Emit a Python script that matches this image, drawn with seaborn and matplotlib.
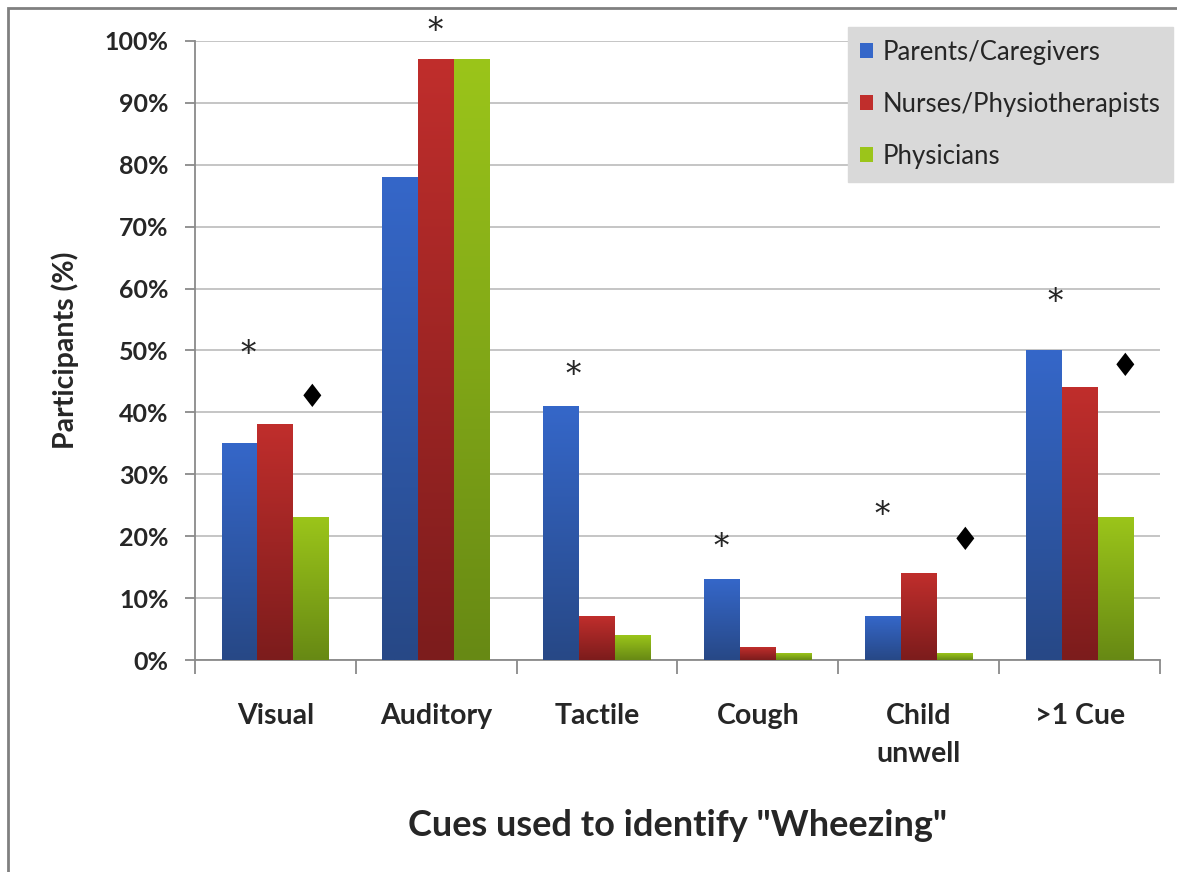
import numpy as np
import pandas as pd
import matplotlib
matplotlib.use("Agg")
import matplotlib.pyplot as plt
from matplotlib.colors import LinearSegmentedColormap
from matplotlib.patches import Rectangle, Patch
from matplotlib.ticker import FuncFormatter, MultipleLocator
import seaborn as sns

# data
categories = ["Visual", "Auditory", "Tactile", "Cough", "Child\nunwell", ">1 Cue"]
groups = ["Parents/Caregivers", "Nurses/Physiotherapists", "Physicians"]
parents = [35, 78, 41, 13, 7, 50]
nurses = [38, 97, 7, 2, 14, 44]
physicians = [23, 97, 4, 1, 1, 23]

# significance markers (x in category units, y in %)
star_x = [-0.17, 0.99, 1.85, 2.77, 3.77, 4.85]
star_y = [49.3, 101.6, 45.9, 18.1, 23.3, 57.8]
diamond_x = [0.23, 4.29, 5.28]
diamond_y = [42.3, 19.2, 47.3]

light = ["#3567c9", "#c02e2c", "#9bc51a"]
dark = ["#274886", "#7c1c1c", "#678914"]

df = pd.DataFrame({
    "cue": categories * 3,
    "group": np.repeat(groups, len(categories)),
    "value": parents + nurses + physicians,
})

sns.set_style("white")
plt.rcParams["font.family"] = ["Lato", "DejaVu Sans"]

fig = plt.figure(figsize=(11.77, 8.72), dpi=100)
ax = fig.add_axes([195 / 1177, 1 - 660 / 872, 965 / 1177, 619 / 872])

sns.barplot(data=df, x="cue", y="value", hue="group", hue_order=groups,
            palette=light, width=0.67, gap=0, ax=ax, legend=False, zorder=3)

# vertical gradient fill on every bar
grad = np.linspace(0, 1, 256).reshape(-1, 1)
for i, cont in enumerate(ax.containers):
    cmap = LinearSegmentedColormap.from_list(f"g{i}", [dark[i], light[i]])
    for p in cont.patches:
        x0, w, h = p.get_x(), p.get_width(), p.get_height()
        ax.imshow(grad, extent=[x0, x0 + w, 0, h], origin="lower", cmap=cmap,
                  aspect="auto", zorder=3, interpolation="bilinear")
        p.set_facecolor("none")
        p.set_edgecolor("none")

ax.set_xlim(-0.5, 5.5)
ax.set_ylim(0, 100)
ax.yaxis.set_major_locator(MultipleLocator(10))
ax.yaxis.set_major_formatter(FuncFormatter(lambda v, _: f"{int(v)}%"))
ax.grid(axis="y", color="#c0c0c0", linewidth=1.3, zorder=0)
ax.set_axisbelow(True)

for s in ["top", "right"]:
    ax.spines[s].set_visible(False)
for s in ["left", "bottom"]:
    ax.spines[s].set_color("#8a8a8a")
    ax.spines[s].set_linewidth(1.3)

ax.tick_params(axis="y", length=7, width=1.3, color="#8a8a8a", pad=12,
               labelsize=18, left=True)
ax.tick_params(axis="x", which="major", length=0, pad=31, labelsize=20.5)
ax.set_xticks(np.arange(-0.5, 6.0, 1.0), minor=True)
ax.tick_params(axis="x", which="minor", length=10, width=1.3, color="#8a8a8a",
               bottom=True, direction="out")
for lab in ax.get_xticklabels() + ax.get_yticklabels():
    lab.set_fontweight("bold")
for lab in ax.get_xticklabels():
    lab.set_linespacing(1.55)

ax.set_xlabel('Cues used to identify "Wheezing"', fontsize=26, fontweight="bold")
ax.xaxis.set_label_coords(0.5, -0.267)
ax.xaxis.label.set_va("center")
ax.set_ylabel("Participants (%)", fontsize=20.5, fontweight="bold")
ax.yaxis.set_label_coords(-0.135, 0.5)
ax.yaxis.label.set_va("center")

for x, y in zip(star_x, star_y):
    ax.text(x, y, "*", fontsize=22, ha="center", va="center",
            family="DejaVu Serif", clip_on=False, zorder=5)
for x, y in zip(diamond_x, diamond_y):
    ax.text(x, y, "\u2666", fontsize=23, ha="center", va="center",
            family="DejaVu Sans", color="black", clip_on=False, zorder=5)

handles = [Patch(facecolor=c, edgecolor="none") for c in light]
leg = fig.legend(handles, groups, loc="upper right",
                 bbox_to_anchor=(1173 / 1177, 1 - 27 / 872), borderaxespad=0,
                 fontsize=18.5, frameon=True, fancybox=False, facecolor="#d9d9d9",
                 edgecolor="#d9d9d9", framealpha=1, handlelength=0.5,
                 handleheight=0.5, handletextpad=0.35, labelspacing=1.05,
                 borderpad=0.5)

# outer frame (cut off at the right and bottom in the original)
fig.patches.append(Rectangle((8 / 1177, -0.1), 1.2, 1.1 - 8 / 872,
                             transform=fig.transFigure, fill=False,
                             edgecolor="#808080", linewidth=2))

fig.savefig("out.png", dpi=100)
